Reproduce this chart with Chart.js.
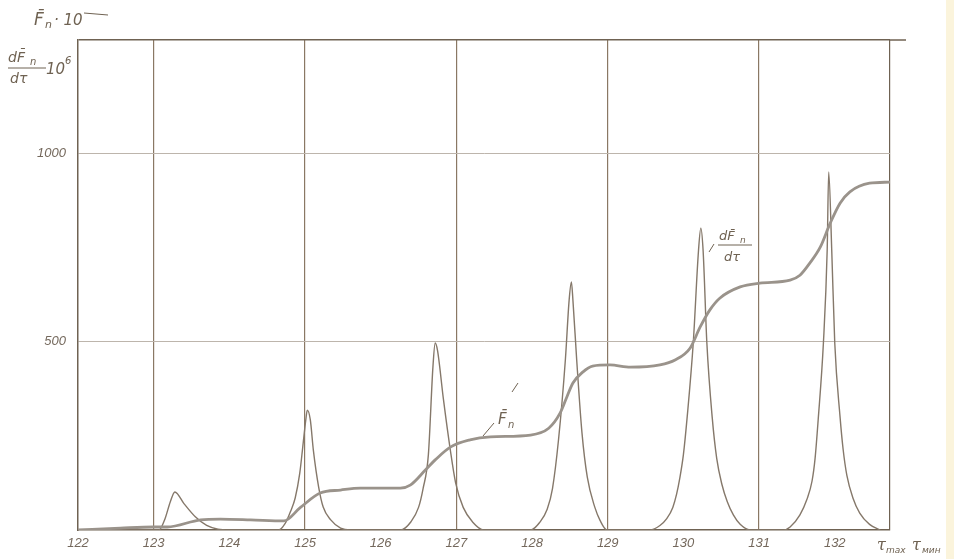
<!DOCTYPE html>
<html>
<head>
<meta charset="utf-8">
<script src="https://cdn.jsdelivr.net/npm/chart.js@4/dist/chart.umd.min.js"></script>
<style>
  html, body { margin: 0; padding: 0; background: #fff; }
  #wrap { width: 954px; height: 559px; position: relative; }
</style>
</head>
<body>
<div id="wrap"><canvas id="chart" width="954" height="559"></canvas></div>
<script>
// tau axis (minutes)
const tauMin = 122;
const tauMax = 132.73;
const xTicks = [122, 123, 124, 125, 126, 127, 128, 129, 130, 131, 132, 132.73];
const yTicks = [0, 500, 1000, 1300];

// F_n (cumulative curve)
const tauF = [122, 122.56, 123, 123.18, 123.62, 123.88, 124.28, 124.72, 124.94, 125.2, 125.47,
  125.73, 126.26, 126.39, 126.59, 126.72, 126.92, 127.18, 127.45, 127.98, 128.22, 128.37,
  128.46, 128.54, 128.67, 128.8, 129.03, 129.3, 129.69, 129.89, 130.09, 130.22, 130.35, 130.48, 130.75,
  131.01, 131.41, 131.54, 131.67, 131.81, 131.94, 132.07, 132.2, 132.46, 132.73];
const valF = [0, 5, 8, 8, 27, 29, 27, 24, 60, 98, 106,
  111, 111, 119, 159, 186, 220, 239, 247, 252, 270, 310,
  353, 390, 419, 435, 438, 432, 438, 451, 483, 538, 584, 615, 645,
  655, 663, 676, 708, 751, 814, 867, 897, 920, 923];

// dF_n/dtau (peaks)
const tauD = [122, 123.07, 123.15, 123.22, 123.28, 123.4, 123.55, 123.7, 123.85, 124,
  124.65, 124.74, 124.81, 124.87, 124.93, 124.97, 125.01, 125.03, 125.07, 125.11, 125.18, 125.24, 125.34, 125.47, 125.6,
  126.26, 126.4, 126.5, 126.56, 126.63, 126.69, 126.72, 126.75, 126.83, 126.92, 126.99, 127.09, 127.22, 127.36,
  127.98, 128.1, 128.2, 128.27, 128.35, 128.44, 128.49, 128.52, 128.54, 128.59, 128.66, 128.73, 128.83, 128.9, 128.99,
  129.56, 129.69, 129.78, 129.86, 129.91, 129.95, 130, 130.05, 130.13, 130.2, 130.23, 130.26, 130.31, 130.38, 130.44,
  130.51, 130.58, 130.66, 130.75, 130.88,
  131.32, 131.41, 131.54, 131.63, 131.7, 131.74, 131.78, 131.85, 131.9, 131.92, 131.96, 132, 132.07, 132.11, 132.16,
  132.24, 132.33, 132.46, 132.6];
const valD = [0, 0, 30, 75, 101, 70, 35, 12, 2, 0,
  0, 18, 50, 85, 150, 220, 292, 318, 292, 212, 114, 61, 27, 5, 0,
  0, 22, 60, 110, 200, 432, 496, 477, 345, 212, 125, 60, 20, 0,
  0, 20, 55, 110, 240, 451, 610, 658, 610, 451, 257, 140, 60, 25, 0,
  0, 12, 30, 60, 95, 135, 200, 300, 496, 743, 801, 743, 496, 300, 190,
  120, 75, 40, 15, 0,
  0, 8, 40, 80, 130, 190, 290, 496, 743, 950, 743, 496, 300, 215, 145,
  85, 45, 15, 0];

const ink = "#6f6252";

function pts(xs, ys) {
  return xs.map((x, i) => ({ x: x, y: ys[i] }));
}

// hand-written labels
const labels = {
  id: "labels",
  afterDraw(chart) {
    const c = chart.ctx;
    c.save();
    c.fillStyle = ink;
    c.strokeStyle = ink;
    c.textBaseline = "alphabetic";
    c.textAlign = "left";

    // top-left axis captions
    c.font = "italic 17px 'DejaVu Sans'";
    c.fillText("F\u0304", 34, 25);
    c.font = "italic 11px 'DejaVu Sans'";
    c.fillText("n", 45, 28);
    c.font = "italic 15px 'DejaVu Sans'";
    c.fillText("\u00b7 10", 54, 25);
    c.lineWidth = 1;
    c.beginPath();
    c.moveTo(84, 13); c.lineTo(108, 15);
    c.stroke();

    c.font = "italic 14px 'DejaVu Sans'";
    c.fillText("dF\u0304", 8, 62);
    c.font = "italic 10px 'DejaVu Sans'";
    c.fillText("n", 30, 65);
    c.beginPath();
    c.moveTo(8, 68); c.lineTo(46, 68);
    c.stroke();
    c.font = "italic 14px 'DejaVu Sans'";
    c.fillText("d\u03c4", 10, 83);
    c.font = "italic 15px 'DejaVu Sans'";
    c.fillText("10", 46, 74);
    c.font = "italic 10px 'DejaVu Sans'";
    c.fillText("6", 65, 64);

    // tau label at the right end
    c.font = "italic 16px 'DejaVu Serif'";
    c.fillText("\u03c4", 877, 550);
    c.fillText("\u03c4", 912, 550);
    c.font = "italic 9px 'DejaVu Sans'";
    c.fillText("max", 886, 553);
    c.fillText("\u043c\u0438\u043d", 922, 553);

    // top line runs a little past the frame
    c.lineWidth = 1.5;
    c.beginPath();
    c.moveTo(890, 40); c.lineTo(906, 40);
    c.stroke();

    // F_n curve label
    c.font = "italic 15px 'DejaVu Sans'";
    c.fillText("F\u0304", 498, 424);
    c.font = "italic 10px 'DejaVu Sans'";
    c.fillText("n", 508, 428);
    c.lineWidth = 1;
    c.beginPath();
    c.moveTo(483, 436); c.lineTo(494, 423);
    c.moveTo(512, 392); c.lineTo(518, 383);
    c.stroke();

    // dF_n/dtau curve label
    c.font = "italic 13px 'DejaVu Sans'";
    c.fillText("dF\u0304", 719, 240);
    c.font = "italic 9px 'DejaVu Sans'";
    c.fillText("n", 740, 243);
    c.beginPath();
    c.moveTo(718, 245); c.lineTo(752, 245);
    c.moveTo(709, 252); c.lineTo(714, 244);
    c.stroke();
    c.font = "italic 13px 'DejaVu Sans'";
    c.fillText("d\u03c4", 724, 261);

    // pale scan edge
    c.fillStyle = "rgba(250, 240, 205, 0.7)";
    c.fillRect(946, 0, 8, 559);
    c.restore();
  }
};

new Chart(document.getElementById("chart").getContext("2d"), {
  type: "scatter",
  data: {
    datasets: [
      {
        label: "F_n",
        data: pts(tauF, valF),
        showLine: true,
        borderColor: "#9a938b",
        borderWidth: 2.8,
        pointRadius: 0,
        cubicInterpolationMode: "monotone",
      },
      {
        label: "dF_n/dtau",
        data: pts(tauD, valD),
        showLine: true,
        borderColor: "#85786a",
        borderWidth: 1.4,
        pointRadius: 0,
        cubicInterpolationMode: "monotone",
      },
    ],
  },
  options: {
    responsive: false,
    animation: false,
    layout: { padding: { left: 0, top: 40, right: 64, bottom: 0 } },
    plugins: { legend: { display: false }, tooltip: { enabled: false } },
    scales: {
      x: {
        type: "linear",
        min: tauMin,
        max: tauMax,
        afterBuildTicks: (s) => { s.ticks = xTicks.map((v) => ({ value: v })); },
        afterFit: (s) => { s.height = 29; },
        border: { color: ink, width: 1.5 },
        grid: {
          drawTicks: false,
          lineWidth: 1.2,
          color: (ctx) => {
            const v = ctx.tick ? ctx.tick.value : 0;
            if (v === tauMax) return ink;
            if (Number.isInteger(v) && v % 2 === 1) return "#8a7864";
            return "rgba(0,0,0,0)";
          },
        },
        ticks: {
          padding: 6,
          color: "#74685c",
          font: { family: "'Liberation Sans'", style: "italic", size: 13 },
          maxRotation: 0,
          autoSkip: false,
          callback: (v) => (Number.isInteger(v) ? String(v) : ""),
        },
      },
      y: {
        min: 0,
        max: 1300,
        afterBuildTicks: (s) => { s.ticks = yTicks.map((v) => ({ value: v })); },
        afterFit: (s) => { s.width = 78; },
        border: { color: ink, width: 1.5 },
        grid: {
          drawTicks: false,
          lineWidth: (ctx) => (ctx.tick && ctx.tick.value === 1300 ? 1.6 : 1),
          color: (ctx) => {
            const v = ctx.tick ? ctx.tick.value : 0;
            if (v === 1300) return ink;
            if (v === 0) return "rgba(0,0,0,0)";
            return "#bdb5ac";
          },
        },
        ticks: {
          padding: 12,
          color: "#74685c",
          font: { family: "'Liberation Sans'", style: "italic", size: 13 },
          callback: (v) => (v === 500 || v === 1000 ? String(v) : ""),
        },
      },
    },
  },
  plugins: [labels],
});
</script>
</body>
</html>
